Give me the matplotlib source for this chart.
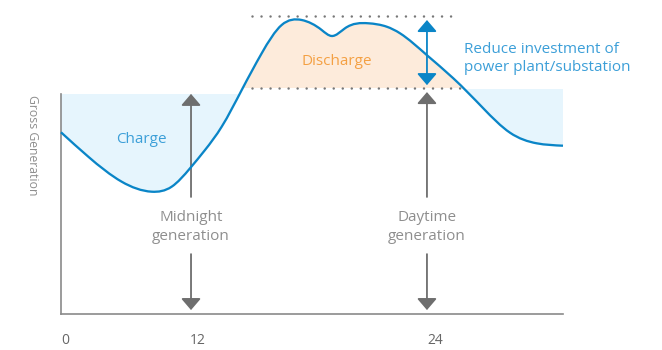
import numpy as np
import matplotlib
matplotlib.use("Agg")
import matplotlib.pyplot as plt
from matplotlib.path import Path
from matplotlib.patches import PathPatch, Rectangle

# ---- data ----
x_vals = [0, 5.44, 12.09, 18.07, 22.05, 25.70, 28.69, 32.01, 36.00, 39.98, 43.96,
          47.95, 51.93, 53.92, 56.57, 61.22, 64.88, 67.53, 72.85, 78.15, 84.12,
          89.44, 94.76, 100]
gen_vals = [59.77, 51.74, 43.52, 40.23, 41.88, 47.93, 53.95, 61.61, 73.68, 85.76, 95.07,
            96.71, 93.42, 91.45, 93.98, 95.63, 94.51, 92.34, 85.20, 77.53, 67.66,
            59.64, 56.15, 55.36]
tick_pos = [0.8, 27.2, 74.5]
tick_labels = ["0", "12", "24"]
charge_level_left = 72.4
charge_level_right = 74.0
discharge_base = 74.5
peak_level = 98.0
midnight_x = 25.9
daytime_x = 72.9

LINE = "#0a85c7"
TXT_BLUE = "#3c9fd8"
ORANGE = "#f4a043"
GRAY = "#6e6e6e"
LGRAY = "#8a8a8a"
FILL_BLUE = "#e6f5fd"
FILL_PEACH = "#fdebdb"

plt.rcParams['font.family'] = ['Open Sans', 'DejaVu Sans']

fig = plt.figure(figsize=(6.62, 3.5), dpi=100)
ax = fig.add_axes([61/662, 36/350, 502/662, 304/350])
ax.set_xlim(0, 100)
ax.set_ylim(0, 100)

# smooth curve through the read points: natural cubic spline drawn as Bezier segments
xs = np.array(x_vals, float)
ys = np.array(gen_vals, float)
n = len(xs)
h = np.diff(xs)
A = np.zeros((n, n))
b = np.zeros(n)
A[0, 0] = A[-1, -1] = 1.0
for i in range(1, n - 1):
    A[i, i - 1] = h[i - 1]
    A[i, i] = 2 * (h[i - 1] + h[i])
    A[i, i + 1] = h[i]
    b[i] = 6 * ((ys[i + 1] - ys[i]) / h[i] - (ys[i] - ys[i - 1]) / h[i - 1])
M = np.linalg.solve(A, b)
verts = [(xs[0], ys[0])]
codes = [Path.MOVETO]
for i in range(n - 1):
    hi = h[i]
    s = (ys[i + 1] - ys[i]) / hi
    d0 = s - hi * (2 * M[i] + M[i + 1]) / 6
    d1 = s + hi * (M[i] + 2 * M[i + 1]) / 6
    verts += [(xs[i] + hi / 3, ys[i] + d0 * hi / 3),
              (xs[i + 1] - hi / 3, ys[i + 1] - d1 * hi / 3),
              (xs[i + 1], ys[i + 1])]
    codes += [Path.CURVE4] * 3
curve_path = Path(verts, codes)

above_path = Path(verts + [(100, 300), (0, 300), verts[0]],
                  codes + [Path.LINETO, Path.LINETO, Path.CLOSEPOLY])
below_path = Path(verts + [(100, -300), (0, -300), verts[0]],
                  codes + [Path.LINETO, Path.LINETO, Path.CLOSEPOLY])
above_clip = PathPatch(above_path, transform=ax.transData, visible=False)
below_clip = PathPatch(below_path, transform=ax.transData, visible=False)
ax.add_patch(above_clip)
ax.add_patch(below_clip)

# fills
r1 = Rectangle((0, 0), 50, charge_level_left, color=FILL_BLUE, lw=0, zorder=1)
r2 = Rectangle((60, 0), 40, charge_level_right, color=FILL_BLUE, lw=0, zorder=1)
r3 = Rectangle((30, discharge_base), 55, 30, color=FILL_PEACH, lw=0, zorder=1)
for r, c in [(r1, above_clip), (r2, above_clip), (r3, below_clip)]:
    ax.add_patch(r)
    r.set_clip_path(c)

# dotted reference lines
for lev, xe in [(peak_level, 79.3), (discharge_base, 79.7)]:
    ax.plot([38.05, xe], [lev, lev], color="#777777", lw=1.8,
            dashes=(0.01, 3.6), dash_capstyle='round', zorder=2, clip_on=False)

# curve
ax.add_patch(PathPatch(curve_path, fill=False, edgecolor=LINE, lw=1.65,
                       joinstyle='round', capstyle='butt', zorder=4, clip_on=False))

def arrow(x0, y0, x1, y1, color, style='-|>'):
    ax.annotate('', xy=(x1, y1), xytext=(x0, y0),
                arrowprops=dict(arrowstyle=style + ',head_length=0.7,head_width=0.6',
                                lw=1.3, color=color, shrinkA=0, shrinkB=0),
                annotation_clip=False)

arrow(midnight_x, 38.5, midnight_x, charge_level_left, GRAY)
arrow(midnight_x, 19.7, midnight_x, 1.3, GRAY)
arrow(daytime_x, 38.5, daytime_x, 73.0, GRAY)
arrow(daytime_x, 19.7, daytime_x, 1.3, GRAY)
arrow(daytime_x, 75.3, daytime_x, 96.7, LINE, style='<|-|>')

# text
TG = "#8e8e8e"
FS = 11
ax.text(midnight_x, 28.6, "Midnight\ngeneration", ha='center', va='center',
        color=TG, fontsize=FS, linespacing=1.42)
ax.text(daytime_x, 28.6, "Daytime\ngeneration", ha='center', va='center',
        color=TG, fontsize=FS, linespacing=1.42)
ax.text(16.1, 57.4, "Charge", ha='center', va='center', color=TXT_BLUE, fontsize=FS)
ax.text(55.0, 83.0, "Discharge", ha='center', va='center', color=ORANGE, fontsize=FS)
ax.text(80.3, 84.0, "Reduce investment of\npower plant/substation", ha='left',
        va='center', color=TXT_BLUE, fontsize=FS, linespacing=1.33, clip_on=False)
ax.text(-5.6, 55.6, "Gross Generation", ha='center', va='center', rotation=270,
        color=TG, fontsize=8.8)

# axes styling
for s in ('top', 'right'):
    ax.spines[s].set_visible(False)
for s in ('left', 'bottom'):
    ax.spines[s].set_color(LGRAY)
    ax.spines[s].set_linewidth(1.2)
ax.spines['left'].set_bounds(0, charge_level_left)
ax.set_yticks([])
ax.set_xticks(tick_pos)
ax.set_xticklabels(tick_labels)
ax.tick_params(axis='x', length=0, pad=14, labelsize=10, labelcolor="#666666")

fig.savefig("out.png", dpi=100)
